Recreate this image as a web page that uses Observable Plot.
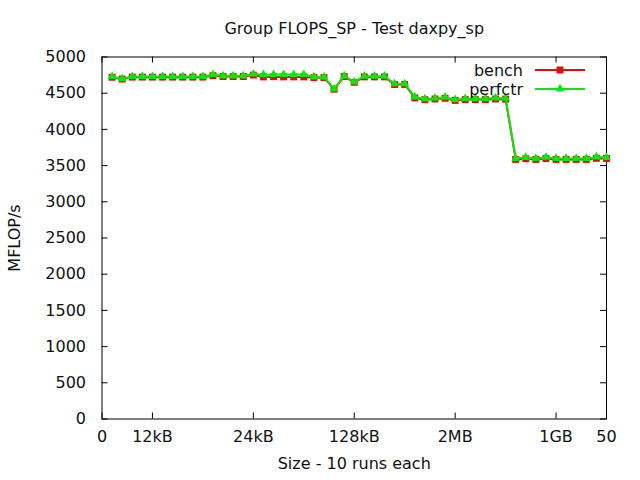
<!DOCTYPE html>
<html><head><meta charset="utf-8">
<script src="https://cdn.jsdelivr.net/npm/d3@7"></script>
<script src="https://cdn.jsdelivr.net/npm/@observablehq/plot@0.6"></script>
<style>body{margin:0;background:#fff} svg{display:block}</style>
</head><body><div id="chart"></div>
<script>
const runs = [1,2,3,4,5,6,7,8,9,10,11,12,13,14,15,16,17,18,19,20,21,22,23,24,25,26,27,28,29,30,31,32,33,34,35,36,37,38,39,40,41,42,43,44,45,46,47,48,49,50];
const bench = [4720,4695,4722,4722,4722,4722,4722,4722,4722,4722,4742,4730,4730,4730,4750,4725,4728,4725,4725,4725,4715,4715,4555,4730,4650,4725,4725,4725,4620,4620,4435,4410,4420,4430,4400,4412,4412,4412,4420,4418,3585,3595,3585,3598,3585,3585,3585,3585,3600,3598];
const perfctr = [4730,4700,4730,4730,4730,4730,4730,4730,4730,4730,4758,4740,4740,4740,4765,4755,4758,4758,4758,4758,4725,4725,4560,4740,4655,4735,4735,4735,4630,4630,4450,4420,4430,4445,4410,4425,4425,4425,4435,4430,3600,3612,3598,3615,3598,3598,3598,3598,3620,3612];
const xTickValues = [0,5,15,25,35,45,50];
const xTickLabels = ["0","12kB","24kB","128kB","2MB","1GB","50"];
const yTickValues = [0,500,1000,1500,2000,2500,3000,3500,4000,4500,5000];
const titleText = "Group FLOPS_SP - Test daxpy_sp";
const xLabel = "Size - 10 runs each";
const yLabel = "MFLOP/s";
const seriesNames = ["bench","perfctr"];
const seriesColors = ["#e80a0a","#0ae80a"];

const rows = [];
runs.forEach((r,i) => {
  rows.push({x:r, y:bench[i], s:seriesNames[0]});
  rows.push({x:r, y:perfctr[i], s:seriesNames[1]});
});
const benchRows = rows.filter(d => d.s === seriesNames[0]);
const perfRows = rows.filter(d => d.s === seriesNames[1]);

const W = 640, H = 480;
const mL = 101.5, mR = 34, mT = 56.5, mB = 61.5;
const font = "DejaVu Sans, sans-serif";
const fs = 16;
const tickLen = 6;
const textColor = "#111";

function legend(index, scales, values, dims) {
  const g = d3.create("svg:g").attr("font-family", font).attr("font-size", fs);
  const right = dims.width - dims.marginRight;
  const top = dims.marginTop;
  seriesNames.forEach((name, i) => {
    const y = top + 13.5 + i * 19;
    const x1 = right - 71, x2 = right - 21, xm = (x1 + x2) / 2;
    g.append("text").attr("x", right - 83).attr("y", y).attr("dy", "0.35em")
      .attr("text-anchor", "end").attr("fill", textColor).text(name);
    g.append("line").attr("x1", x1).attr("x2", x2).attr("y1", y).attr("y2", y)
      .attr("stroke", seriesColors[i]).attr("stroke-width", 2);
    const sym = i === 0 ? d3.symbolSquare : d3.symbolTriangle;
    const r = i === 0 ? 3.9 : 3.3;
    g.append("path").attr("transform", `translate(${xm},${y})`)
      .attr("d", d3.symbol(sym, r * r * Math.PI)()).attr("fill", seriesColors[i]);
  });
  return g.node();
}

const plot = Plot.plot({
  width: W, height: H,
  marginLeft: mL, marginRight: mR, marginTop: mT, marginBottom: mB,
  style: {fontFamily: font, fontSize: fs + "px", background: "#fff", color: textColor},
  x: {domain: [0, 50]},
  y: {domain: [0, 5000]},
  marks: [
    Plot.ruleY(yTickValues, {stroke: "#000", insetRight: W - mL - mR - tickLen}),
    Plot.ruleY(yTickValues, {stroke: "#000", insetLeft: W - mL - mR - tickLen}),
    Plot.ruleX(xTickValues, {stroke: "#000", insetTop: H - mT - mB - tickLen}),
    Plot.ruleX(xTickValues, {stroke: "#000", insetBottom: H - mT - mB - tickLen}),
    Plot.axisY(yTickValues, {tickSize: 0, tickPadding: 16, label: null, fontSize: fs, tickFormat: d3.format("d")}),
    Plot.axisX(xTickValues, {tickSize: 0, tickPadding: 12, label: null, fontSize: fs,
      tickFormat: (d) => xTickLabels[xTickValues.indexOf(d)]}),
    Plot.frame({stroke: "#000"}),
    Plot.line(benchRows, {x: "x", y: "y", stroke: seriesColors[0], strokeWidth: 2}),
    Plot.dot(benchRows, {x: "x", y: "y", symbol: "square", r: 3.9, fill: seriesColors[0]}),
    Plot.line(perfRows, {x: "x", y: "y", stroke: seriesColors[1], strokeWidth: 2}),
    Plot.dot(perfRows, {x: "x", y: "y", symbol: "triangle", r: 3.3, fill: seriesColors[1]}),
    Plot.text([titleText], {frameAnchor: "top", dy: -34.5, fontSize: fs, fill: textColor}),
    Plot.text([xLabel], {frameAnchor: "bottom", dy: 50, fontSize: fs, fill: textColor}),
    Plot.text([yLabel], {frameAnchor: "left", dx: -87.5, rotate: -90, textAnchor: "middle", fontSize: fs, fill: textColor}),
    legend
  ]
});
document.getElementById("chart").appendChild(plot);
</script>
</body></html>
